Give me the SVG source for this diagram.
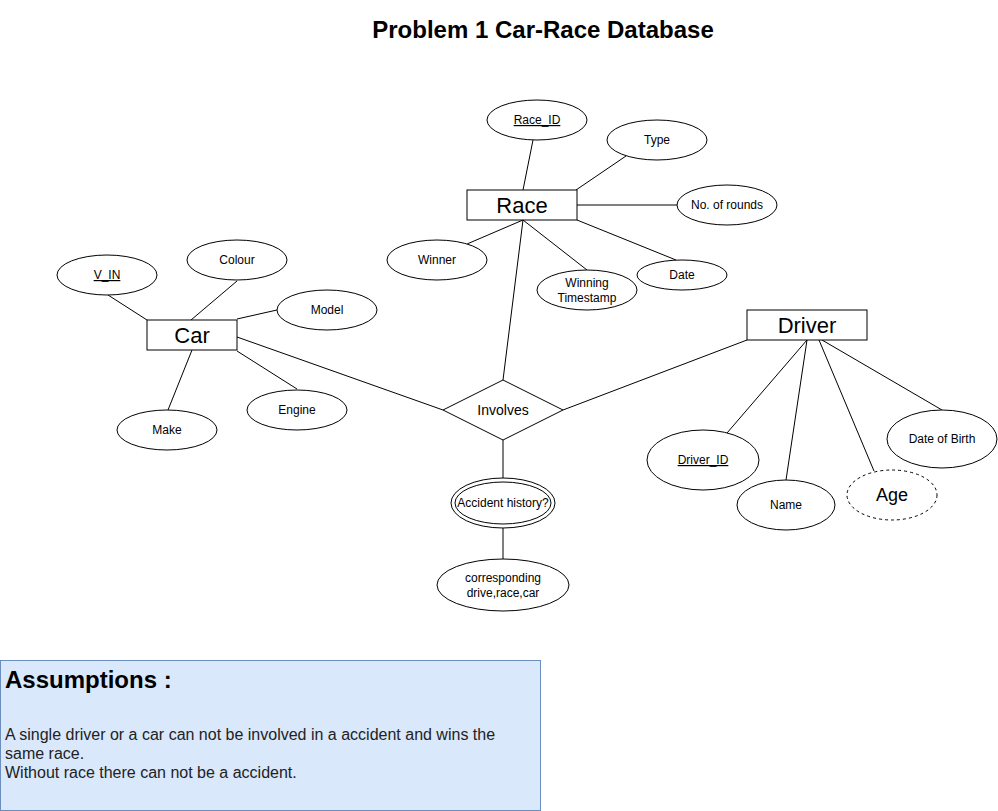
<svg xmlns="http://www.w3.org/2000/svg" width="998" height="811" viewBox="0 0 998 811">
<style>
.s{fill:#fff;stroke:#000;stroke-width:1}
.l{stroke:#000;stroke-width:1;fill:none}
text{font-family:"Liberation Sans",Arial,sans-serif;fill:#000;text-anchor:middle}
.a{font-size:12px}
.e{font-size:22px}
.u{text-decoration:underline}
</style>
<rect width="998" height="811" fill="#fff"/>
<text x="543" y="38" style="font-size:24px;font-weight:bold">Problem 1 Car-Race Database</text>
<g id="connectors">
<line class="l" x1="533" y1="140" x2="523" y2="190"/>
<line class="l" x1="626" y1="156" x2="576" y2="190"/>
<line class="l" x1="577" y1="205" x2="677" y2="205"/>
<line class="l" x1="467" y1="244" x2="523" y2="220"/>
<line class="l" x1="523" y1="220" x2="587" y2="270"/>
<line class="l" x1="577" y1="220" x2="676" y2="260"/>
<line class="l" x1="523" y1="220" x2="503" y2="380"/>
<line class="l" x1="108" y1="295" x2="147" y2="320"/>
<line class="l" x1="237" y1="281" x2="191" y2="320"/>
<line class="l" x1="237" y1="319" x2="277" y2="310"/>
<line class="l" x1="237" y1="351" x2="297" y2="389"/>
<line class="l" x1="192" y1="350" x2="168" y2="410"/>
<line class="l" x1="237" y1="337" x2="443" y2="410"/>
<line class="l" x1="747" y1="340" x2="563" y2="410"/>
<line class="l" x1="807" y1="340" x2="727" y2="433"/>
<line class="l" x1="807" y1="340" x2="786" y2="480"/>
<line class="l" x1="819" y1="340" x2="874" y2="471"/>
<line class="l" x1="822" y1="340" x2="942" y2="410"/>
<line class="l" x1="503" y1="440" x2="503" y2="478"/>
<line class="l" x1="503" y1="528" x2="503" y2="559"/>
</g>
<g id="race"><rect class="s" x="467" y="190" width="110" height="30"/><text class="e" x="522" y="213">Race</text></g>
<g id="race_id"><ellipse class="s" cx="537" cy="120" rx="50" ry="20"/><text class="a u" x="537" y="124">Race_ID</text></g>
<g id="type"><ellipse class="s" cx="657" cy="140" rx="50" ry="20"/><text class="a" x="657" y="144">Type</text></g>
<g id="rounds"><ellipse class="s" cx="727" cy="205" rx="50" ry="20"/><text class="a" x="727" y="209">No. of rounds</text></g>
<g id="date"><ellipse class="s" cx="682" cy="275" rx="45" ry="15"/><text class="a" x="682" y="279">Date</text></g>
<g id="winning_ts"><ellipse class="s" cx="587" cy="290" rx="50" ry="20"/><text class="a" x="587" y="287">Winning</text><text class="a" x="587" y="302">Timestamp</text></g>
<g id="winner"><ellipse class="s" cx="437" cy="260" rx="50" ry="20"/><text class="a" x="437" y="264">Winner</text></g>
<g id="car"><rect class="s" x="147" y="320" width="90" height="30"/><text class="e" x="192" y="343">Car</text></g>
<g id="vin"><ellipse class="s" cx="107" cy="275" rx="50" ry="20"/><text class="a u" x="107" y="279">V_IN</text></g>
<g id="colour"><ellipse class="s" cx="237" cy="260" rx="50" ry="20"/><text class="a" x="237" y="264">Colour</text></g>
<g id="model"><ellipse class="s" cx="327" cy="310" rx="50" ry="20"/><text class="a" x="327" y="314">Model</text></g>
<g id="engine"><ellipse class="s" cx="297" cy="410" rx="50" ry="20"/><text class="a" x="297" y="414">Engine</text></g>
<g id="make"><ellipse class="s" cx="167" cy="430" rx="50" ry="20"/><text class="a" x="167" y="434">Make</text></g>
<g id="involves"><polygon class="s" points="503,380 563,410 503,440 443,410"/><text x="503" y="415" style="font-size:14px">Involves</text></g>
<g id="accident"><ellipse class="s" cx="503" cy="503" rx="52" ry="25"/><ellipse class="s" cx="503" cy="503" rx="48" ry="21"/><text class="a" x="503" y="507">Accident history?</text></g>
<g id="corresponding"><ellipse class="s" cx="503" cy="585" rx="66" ry="26"/><text class="a" x="503" y="582">corresponding</text><text class="a" x="503" y="597">drive,race,car</text></g>
<g id="driver"><rect class="s" x="747" y="310" width="120" height="30"/><text class="e" x="807" y="333">Driver</text></g>
<g id="driver_id"><ellipse class="s" cx="703" cy="460" rx="56" ry="30"/><text class="a u" x="703" y="464">Driver_ID</text></g>
<g id="name"><ellipse class="s" cx="786" cy="505" rx="49" ry="25"/><text class="a" x="786" y="509">Name</text></g>
<g id="age"><ellipse class="s" cx="892" cy="495" rx="45" ry="25" stroke-dasharray="3,3"/><text x="892" y="501" style="font-size:18px">Age</text></g>
<g id="dob"><ellipse class="s" cx="942" cy="439" rx="55" ry="29"/><text class="a" x="942" y="443">Date of Birth</text></g>
<g id="assumptions"><rect x="0.5" y="660.5" width="540" height="150" fill="#dae8fc" stroke="#6c8ebf"/>
<text x="5" y="688" style="font-size:24px;font-weight:bold;text-anchor:start">Assumptions :</text>
<text x="5" y="740" style="font-size:16px;text-anchor:start;fill:#222">A single driver or a car can not be involved in a accident and wins the</text>
<text x="5" y="759" style="font-size:16px;text-anchor:start;fill:#222">same race.</text>
<text x="5" y="778" style="font-size:16px;text-anchor:start;fill:#222">Without race there can not be a accident.</text>
</g>
</svg>
